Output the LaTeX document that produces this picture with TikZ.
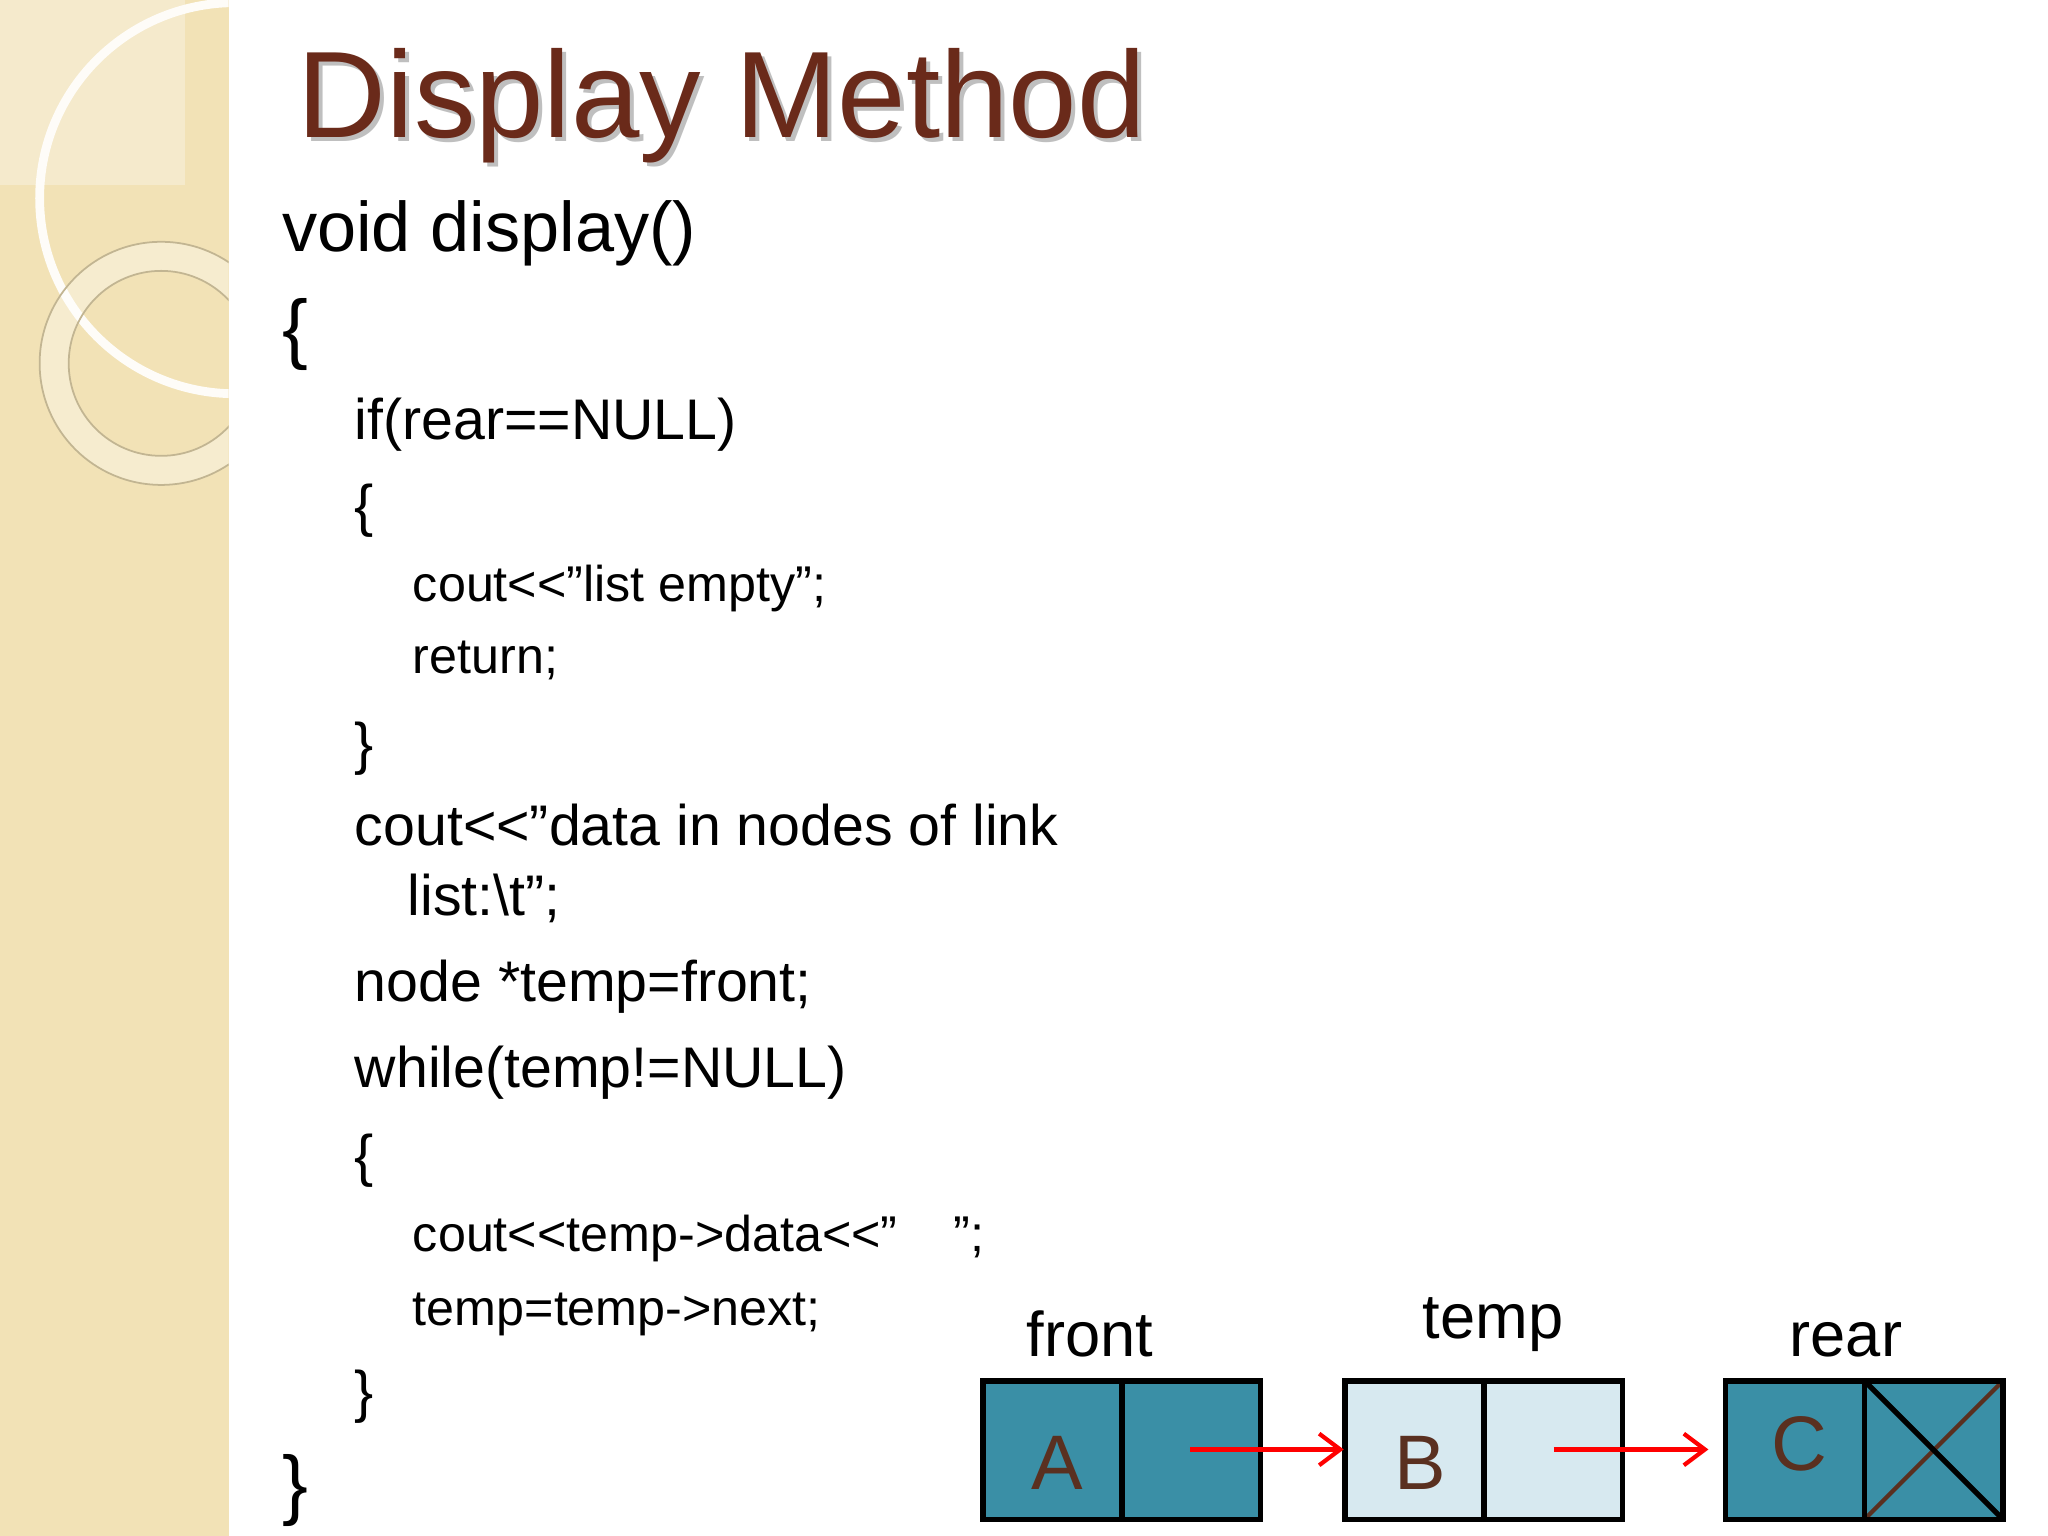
\documentclass[tikz,border=0pt]{standalone}
\usepackage{fontspec}
\setmainfont{Liberation Sans}
\begin{document}
\begin{tikzpicture}[x=0.013213cm,y=-0.013213cm,
  code/.style={anchor=base west,inner sep=0pt,font=\fontsize{#1}{#1}\selectfont},
  cell/.style={draw=black,line width=1.4pt,minimum width=105\pgflinewidth,inner sep=0pt},
  lbl/.style={anchor=base,inner sep=0pt,font=\fontsize{18}{18}\selectfont},
  ltr/.style={inner sep=0pt,text=letter,font=\fontsize{22}{22}\selectfont},
  arr/.style={red,line width=1.2pt,-{Straight Barb[length=6pt,width=9pt]}}]
\usetikzlibrary{arrows.meta}
\definecolor{side}{HTML}{F2E2B6}
\definecolor{teal}{HTML}{3A8FA6}
\definecolor{lteal}{HTML}{D7E9F0}
\definecolor{letter}{HTML}{5A3020}
\definecolor{titlec}{HTML}{6A2A1A}
\useasboundingbox (0,0) rectangle (1550,1162.5);
\fill[white] (0,0) rectangle (1550,1162.5);
% sidebar
\fill[side] (0,0) rectangle (173,1162.5);
\begin{scope}
\clip (0,0) rectangle (173,1162.5);
\fill[white,opacity=0.3] (0,0) rectangle (140,140);
\draw[white!90!side,line width=2.5pt] (178,150) circle (148);
\fill[white,opacity=0.35,even odd rule] (122,275) circle (92) (122,275) circle (70);
\draw[side!80!black,line width=0.5pt] (122,275) circle (92) (122,275) circle (70);
\end{scope}
% title
\node[anchor=base west,inner sep=0pt,text=gray!50,font=\fontsize{35}{35}\selectfont] at (228,107) {Display Method};
\node[anchor=base west,inner sep=0pt,text=titlec,font=\fontsize{35}{35}\selectfont] (title) at (225,104) {Display Method};
% code
\node[code=20] (l1) at (213,190) {void display()};
\node[code=22] (l2) at (213,268) {\{};
\node[code=16.3] (l3) at (268,333) {if(rear==NULL)};
\node[code=16.3] (l4) at (268,398) {\{};
\node[code=14.3] (l5) at (312,455) {cout<{}<"list empty";};
\node[code=14.3] (l6) at (312,510) {return;};
\node[code=16.3] (l7) at (268,578) {\}};
\node[code=16.3] (l8) at (268,640) {cout<{}<"data in nodes of link};
\node[code=16.3] (l9) at (308,693) {list:\textbackslash t";};
\node[code=16.3] (l10) at (268,758) {node *temp=front;};
\node[code=16.3] (l11) at (268,823) {while(temp!=NULL)};
\node[code=16.3] (l12) at (268,890) {\{};
\node[code=14.3] (l13) at (312,947) {cout<{}<temp->data<{}<"\ \ \ \ ";};
\node[code=14.3] (l14) at (312,1003) {temp=temp->next;};
\node[code=16.3] (l15) at (268,1068) {\}};
\node[code=22] (l16) at (213,1143) {\}};
% linked list
\fill[teal] (744,1045) rectangle (954,1150);
\fill[lteal] (1018,1045) rectangle (1228,1150);
\fill[teal] (1306,1045) rectangle (1516,1150);
\draw[letter,line width=1.2pt] (1411,1150) -- (1516,1045);
\draw[line width=1.5pt] (1411,1045) -- (1516,1150);
\foreach \x in {744,1018,1306}{
  \draw[line width=1.6pt] (\x,1045) rectangle ++(210,105) (\x+105,1045) -- ++(0,105);
}
\node[ltr] (A) at (800,1107) {A};
\node[ltr] (B) at (1075,1107) {B};
\node[ltr] (C) at (1362,1093) {C};
\coordinate (a1) at (901,1097); \coordinate (a2) at (1017,1097);
\coordinate (b1) at (1176,1097); \coordinate (b2) at (1293,1097);
\draw[arr] (a1) -- (a2);
\draw[arr] (b1) -- (b2);
\node[lbl] (front) at (825,1027) {front};
\node[lbl] (temp) at (1130,1013) {temp};
\node[lbl] (rear) at (1397,1027) {rear};
\end{tikzpicture}
\end{document}
